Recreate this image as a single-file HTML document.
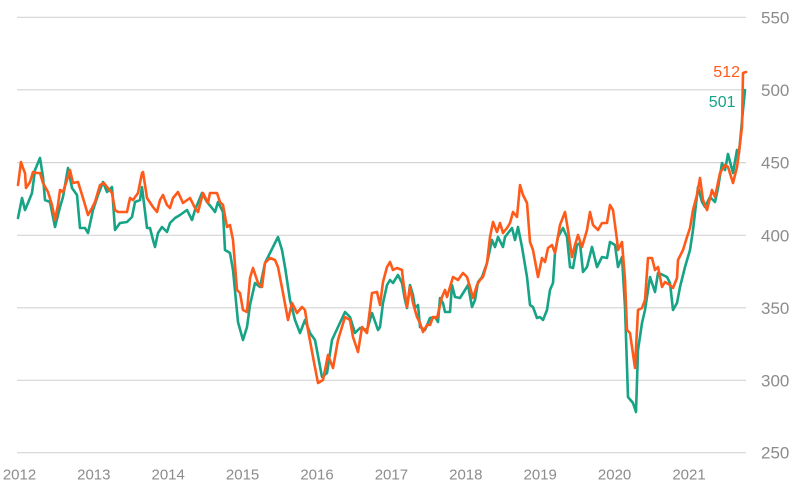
<!DOCTYPE html>
<html>
<head>
<meta charset="utf-8">
<style>
  html, body { margin: 0; padding: 0; background: #ffffff; }
  body { width: 800px; height: 501px; overflow: hidden; }
  svg { display: block; }
  .ax { font-family: "Liberation Sans", Arial, sans-serif; fill: #8c8c8c; }
</style>
</head>
<body>
<svg width="800" height="501" viewBox="0 0 800 501" xmlns="http://www.w3.org/2000/svg">
  <!-- gridlines -->
  <g stroke="#d4d4d4" stroke-width="1.2">
    <line x1="17" y1="17.3" x2="746" y2="17.3"/>
    <line x1="17" y1="89.8" x2="746" y2="89.8"/>
    <line x1="17" y1="162.6" x2="746" y2="162.6"/>
    <line x1="17" y1="235.3" x2="746" y2="235.3"/>
    <line x1="17" y1="307.8" x2="746" y2="307.8"/>
    <line x1="17" y1="380.3" x2="746" y2="380.3"/>
    <line x1="17" y1="452.7" x2="746" y2="452.7"/>
  </g>
  <!-- right axis labels -->
  <g class="ax" font-size="17">
    <text x="761" y="23.3">550</text>
    <text x="761" y="95.8">500</text>
    <text x="761" y="168.6">450</text>
    <text x="761" y="241.3">400</text>
    <text x="761" y="313.8">350</text>
    <text x="761" y="386.3">300</text>
    <text x="761" y="458.7">250</text>
  </g>
  <!-- x axis labels -->
  <g class="ax" font-size="15" text-anchor="middle">
    <text x="19.5" y="479.5">2012</text>
    <text x="93.8" y="479.5">2013</text>
    <text x="168.2" y="479.5">2014</text>
    <text x="242.6" y="479.5">2015</text>
    <text x="317" y="479.5">2016</text>
    <text x="391.4" y="479.5">2017</text>
    <text x="465.8" y="479.5">2018</text>
    <text x="540.2" y="479.5">2019</text>
    <text x="614.6" y="479.5">2020</text>
    <text x="689" y="479.5">2021</text>
  </g>
  <!-- green series -->
  <polyline fill="none" stroke="#16a386" stroke-width="2.6" stroke-linejoin="round" stroke-linecap="round" points="
18,218 22,198 25,210 28,203 32,193 35,170 40,158 43,177 45,200 50,202 55,227 60,207 63,197 68,168 72,188 77,195 80,228 85,228 88,233 93,210 98,195 103,182 107,192 112,187 115,230 120,223 127,222 132,217 135,202 140,200 142,187 147,228 150,228 153,240 155,247 158,233 162,227 167,232 170,223 175,218 180,215 187,210 192,220 195,210 202,193 207,202 212,208 215,212 218,202 223,212 225,250 230,253 233,270 238,322 243,340 247,327 250,305 255,283 260,287 265,263 270,253 273,247 278,237 282,250 285,267 290,300 295,320 300,333 305,320 310,333 315,340 322,377 327,373 332,340 338,327 345,312 350,317 355,333 360,328 367,330 372,313 378,330 380,327 383,303 387,285 390,280 393,283 398,275 402,283 405,300 407,308 410,285 413,295 415,308 418,305 420,327 425,330 430,318 435,317 438,322 440,298 443,303 445,312 450,312 452,285 455,297 460,298 465,290 468,285 472,307 475,300 478,282 482,277 487,263 492,240 495,247 498,237 503,247 505,237 512,228 515,240 518,227 522,247 527,277 530,305 533,307 537,318 540,317 543,320 547,310 550,290 553,283 555,253 558,237 563,228 567,237 570,267 573,268 577,245 580,243 583,272 587,267 592,247 597,267 602,257 607,258 610,242 615,245 618,267 622,257 625,307 628,397 633,403 636,412 638,350 642,323 645,310 650,277 655,292 658,273 663,275 667,277 670,283 673,310 677,303 680,287 685,267 690,250 693,230 698,187 702,202 705,207 710,197 715,202 718,188 722,163 725,170 728,154 733,173 737,150 739,153 743,110 745,90"/>
  <!-- orange series -->
  <polyline fill="none" stroke="#ff5a1a" stroke-width="2.6" stroke-linejoin="round" stroke-linecap="round" points="
18,185 21,162 23,168 25,173 26,188 30,182 33,172 36,173 40,173 43,183 48,192 52,205 55,220 58,205 60,190 63,192 67,180 70,170 73,183 78,182 83,198 88,215 92,208 95,202 100,185 104,183 107,187 112,193 115,210 118,212 127,212 130,198 133,200 138,193 142,173 143,172 147,198 153,207 157,212 160,200 163,195 167,205 170,208 173,198 178,192 183,203 190,198 195,208 198,212 203,193 208,203 210,193 217,193 220,202 223,205 227,227 230,225 233,240 237,290 240,293 243,310 247,312 250,278 253,268 258,283 262,287 265,263 270,258 275,260 278,267 283,293 288,320 292,303 297,313 302,307 305,310 308,330 313,357 318,383 323,380 328,355 333,368 338,340 345,317 350,320 353,337 358,352 362,327 367,333 372,293 377,292 380,305 383,282 387,267 390,262 393,270 397,268 402,270 403,280 407,307 410,287 413,303 417,317 420,323 423,332 427,325 430,325 433,317 437,318 442,297 445,290 447,297 450,287 453,277 458,280 463,273 467,277 470,287 473,298 477,285 480,280 483,277 487,263 490,237 493,222 497,232 500,223 503,233 507,228 510,223 513,212 517,217 520,185 523,195 527,203 530,242 533,250 538,277 542,258 545,262 548,248 552,245 555,253 560,225 565,212 568,230 572,257 575,245 578,235 582,247 587,230 590,212 593,225 598,230 602,223 607,223 610,205 613,210 617,240 618,250 622,242 625,280 627,330 630,333 635,368 638,310 642,308 645,300 648,258 652,258 655,270 658,267 662,287 665,282 670,285 673,288 677,278 678,260 683,250 687,237 690,228 693,210 697,195 700,178 703,200 707,210 712,190 715,197 720,173 725,165 728,167 733,183 737,167 739,152 742,127 743,73 746,72"/>
  <!-- end labels -->
  <text x="740" y="77" font-family="Liberation Sans, Arial, sans-serif" font-size="16" fill="#ff5a1a" text-anchor="end">512</text>
  <text x="735.5" y="107" font-family="Liberation Sans, Arial, sans-serif" font-size="16" fill="#16a386" text-anchor="end">501</text>
</svg>
</body>
</html>
